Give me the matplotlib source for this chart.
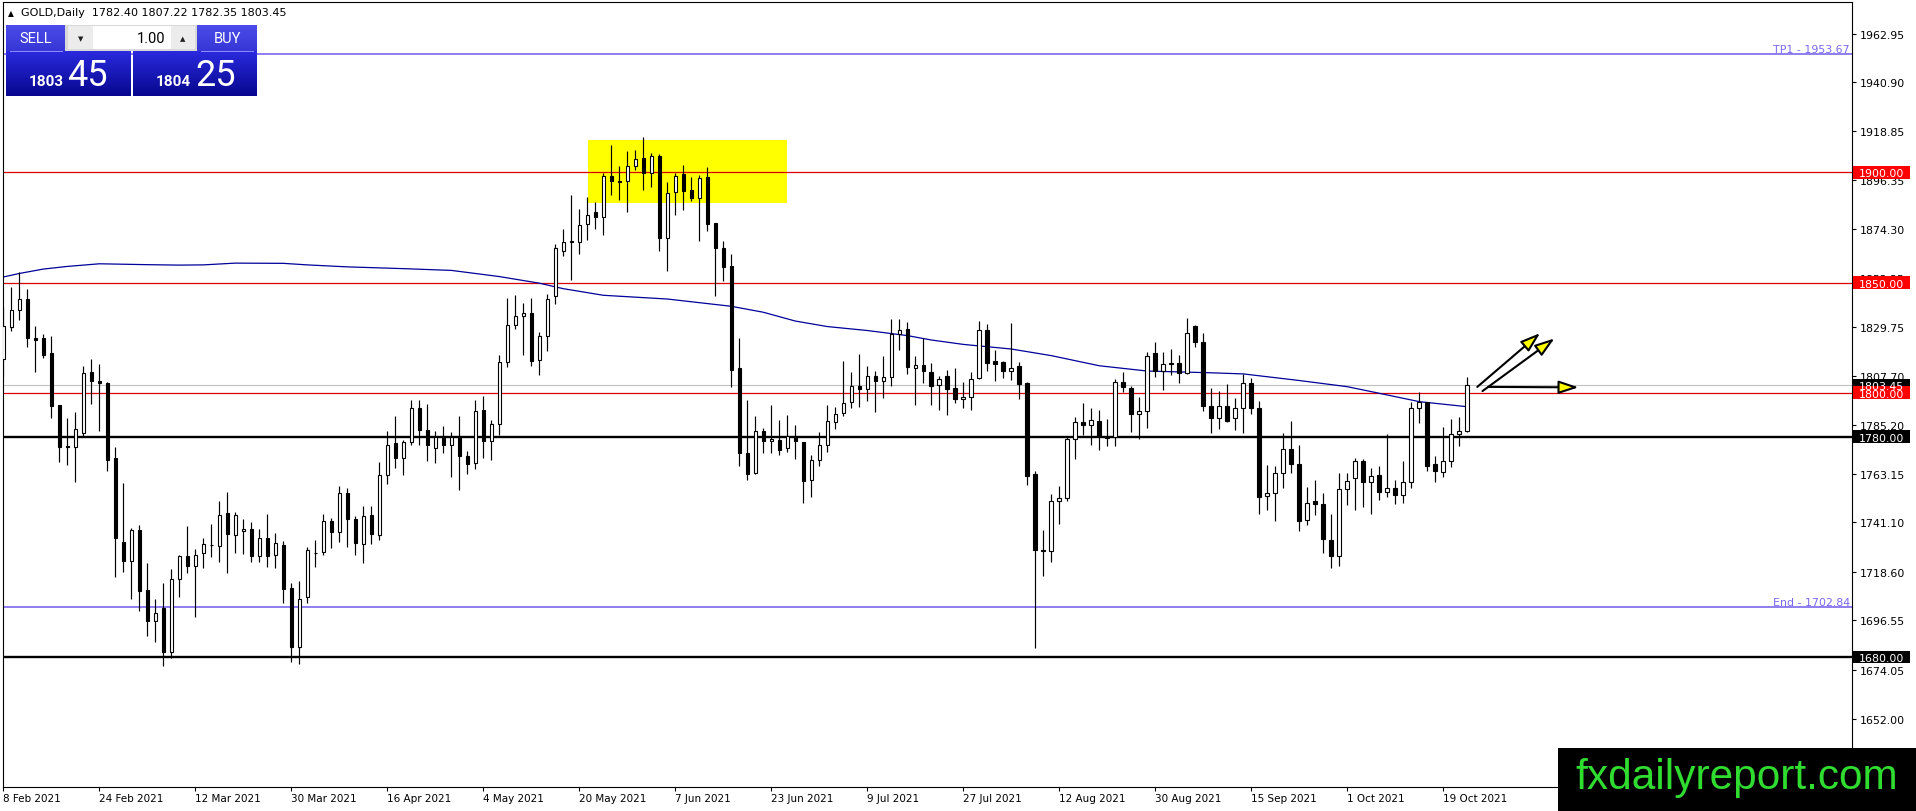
import numpy as np
import matplotlib
matplotlib.use("Agg")
import matplotlib.pyplot as plt
from matplotlib.patches import Rectangle, FancyArrowPatch
from matplotlib.colors import to_rgb

# GOLD daily bars, 8 Feb 2021 .. 22 Oct 2021
opens = [1815.2, 1829.6, 1837.3, 1842.3, 1824.7, 1824.7, 1818.0, 1794.3, 1775.7, 1775.1,
         1781.5, 1809.2, 1805.1, 1804.3, 1770.3, 1732.4, 1723.6, 1737.6, 1710.3, 1696.4,
         1702.4, 1682.3, 1715.3, 1725.8, 1721.4, 1727.0, 1730.8, 1730.4, 1745.3, 1735.3,
         1737.3, 1738.3, 1725.9, 1733.8, 1726.5, 1730.7, 1711.5, 1684.3, 1707.0, 1727.0,
         1727.5, 1741.9, 1736.9, 1754.6, 1742.8, 1731.4, 1744.4, 1735.3, 1762.7, 1777.3,
         1770.5, 1777.6, 1792.9, 1783.2, 1774.8, 1780.4, 1776.0, 1780.4, 1771.3, 1768.2,
         1792.1, 1778.1, 1785.9, 1814.0, 1830.5, 1835.0, 1836.3, 1814.8, 1825.8, 1843.9,
         1864.1, 1868.4, 1868.6, 1876.6, 1881.8, 1879.8, 1898.5, 1896.0, 1895.9, 1903.0,
         1906.4, 1899.5, 1907.6, 1870.1, 1890.9, 1899.2, 1892.0, 1888.2, 1897.7, 1877.0,
         1865.5, 1857.4, 1811.2, 1772.5, 1763.5, 1782.5, 1778.0, 1778.6, 1775.0, 1780.5,
         1777.5, 1760.4, 1769.5, 1776.0, 1786.6, 1790.7, 1795.7, 1802.9, 1801.7, 1807.5,
         1805.2, 1807.0, 1826.7, 1829.1, 1811.3, 1812.4, 1809.2, 1803.4, 1807.5, 1801.9,
         1797.2, 1798.1, 1806.6, 1828.3, 1814.2, 1813.7, 1809.9, 1811.9, 1804.5, 1763.2,
         1728.7, 1728.3, 1750.7, 1752.1, 1779.1, 1786.7, 1785.3, 1787.2, 1779.9, 1779.9,
         1804.9, 1802.3, 1790.2, 1791.7, 1818.0, 1809.9, 1812.9, 1813.6, 1808.7, 1830.4,
         1822.8, 1794.1, 1788.6, 1794.1, 1788.3, 1793.2, 1804.3, 1793.2, 1753.1, 1754.2,
         1763.6, 1774.2, 1767.8, 1742.0, 1750.8, 1749.6, 1733.2, 1725.6, 1756.4, 1761.3,
         1769.0, 1759.5, 1762.4, 1754.9, 1756.7, 1753.4, 1759.5, 1792.9, 1795.6, 1767.4,
         1764.0, 1769.0, 1781.3, 1782.40]
highs = [1838.7, 1847.8, 1854.6, 1847.0, 1830.1, 1826.6, 1825.5, 1794.5, 1788.7, 1791.0,
         1812.0, 1815.2, 1813.2, 1804.6, 1775.1, 1758.9, 1738.5, 1739.8, 1722.6, 1706.5,
         1713.5, 1719.9, 1726.2, 1739.5, 1728.9, 1733.8, 1740.3, 1750.7, 1754.7, 1745.9,
         1742.6, 1741.3, 1738.0, 1744.8, 1736.2, 1732.6, 1713.5, 1714.6, 1729.7, 1733.1,
         1744.7, 1743.2, 1757.7, 1756.5, 1744.0, 1748.3, 1748.3, 1768.7, 1782.7, 1789.3,
         1778.4, 1796.8, 1796.8, 1794.9, 1782.7, 1784.8, 1782.0, 1789.3, 1773.4, 1796.8,
         1798.4, 1787.4, 1817.2, 1843.0, 1844.5, 1840.6, 1843.0, 1827.7, 1845.0, 1867.6,
         1874.3, 1889.6, 1883.2, 1888.8, 1886.5, 1899.6, 1912.5, 1903.0, 1909.8, 1910.1,
         1915.9, 1908.6, 1908.3, 1895.5, 1899.5, 1903.3, 1898.0, 1898.9, 1902.6, 1877.2,
         1868.7, 1863.0, 1824.9, 1796.7, 1789.2, 1784.0, 1794.5, 1787.7, 1789.9, 1785.4,
         1777.7, 1771.5, 1782.1, 1794.5, 1793.4, 1814.3, 1809.3, 1817.6, 1811.9, 1810.0,
         1816.5, 1833.5, 1833.5, 1831.9, 1816.8, 1825.0, 1813.3, 1807.7, 1810.1, 1811.0,
         1804.9, 1809.5, 1832.5, 1831.0, 1819.3, 1814.5, 1831.5, 1813.7, 1804.7, 1764.2,
         1737.7, 1754.1, 1757.6, 1779.9, 1789.0, 1795.1, 1793.1, 1791.9, 1787.8, 1806.0,
         1809.2, 1803.1, 1797.8, 1818.6, 1822.8, 1818.6, 1819.8, 1817.1, 1833.8, 1830.6,
         1826.9, 1802.0, 1800.8, 1803.8, 1797.7, 1808.4, 1806.5, 1796.2, 1767.1, 1766.8,
         1781.5, 1787.1, 1776.2, 1757.3, 1760.5, 1754.2, 1745.1, 1763.6, 1763.7, 1770.1,
         1769.8, 1765.8, 1766.8, 1781.0, 1760.5, 1768.9, 1795.9, 1800.2, 1795.8, 1771.3,
         1784.5, 1787.9, 1789.1, 1807.22]
lows = [1806.9, 1828.1, 1833.1, 1820.5, 1809.5, 1815.5, 1788.7, 1768.6, 1767.1, 1759.5,
        1780.4, 1794.8, 1782.7, 1764.5, 1716.5, 1718.6, 1706.2, 1700.9, 1689.6, 1686.6,
        1676.0, 1679.3, 1707.3, 1718.3, 1698.2, 1720.3, 1725.2, 1723.2, 1718.3, 1727.4,
        1726.7, 1723.2, 1722.9, 1720.9, 1720.5, 1704.7, 1677.8, 1676.7, 1704.7, 1720.6,
        1726.3, 1729.5, 1732.2, 1730.0, 1726.4, 1722.8, 1731.1, 1733.1, 1758.5, 1765.8,
        1762.7, 1776.0, 1776.0, 1769.1, 1768.2, 1772.6, 1761.9, 1755.7, 1763.2, 1765.1,
        1770.2, 1769.4, 1780.7, 1811.7, 1828.9, 1817.2, 1812.0, 1808.2, 1819.0, 1840.3,
        1862.1, 1851.3, 1863.0, 1869.3, 1874.3, 1871.6, 1889.9, 1887.4, 1881.9, 1901.1,
        1892.0, 1893.5, 1864.5, 1855.4, 1880.8, 1882.9, 1886.8, 1869.0, 1873.5, 1844.1,
        1850.9, 1802.5, 1766.5, 1760.4, 1763.0, 1772.5, 1772.5, 1771.9, 1773.0, 1770.0,
        1749.9, 1752.6, 1766.9, 1773.0, 1783.6, 1789.2, 1793.1, 1793.7, 1796.1, 1791.1,
        1797.6, 1803.2, 1819.4, 1808.3, 1794.3, 1804.2, 1794.3, 1792.0, 1789.7, 1795.5,
        1792.8, 1792.0, 1806.1, 1809.8, 1805.2, 1806.7, 1805.7, 1797.0, 1757.9, 1683.9,
        1716.9, 1723.3, 1740.4, 1751.0, 1770.0, 1780.6, 1776.4, 1773.8, 1775.8, 1775.6,
        1800.1, 1781.9, 1779.1, 1784.1, 1807.2, 1801.1, 1808.0, 1804.2, 1808.3, 1820.6,
        1791.6, 1781.5, 1783.5, 1786.8, 1783.0, 1781.8, 1790.3, 1744.7, 1746.6, 1741.6,
        1756.9, 1763.7, 1737.0, 1739.7, 1744.6, 1727.3, 1720.3, 1721.5, 1748.8, 1746.9,
        1748.1, 1745.1, 1751.1, 1752.6, 1749.3, 1749.9, 1756.9, 1786.0, 1764.3, 1759.5,
        1761.7, 1766.3, 1775.7, 1782.35]
closes = [1830.1, 1837.5, 1842.3, 1824.6, 1823.8, 1817.2, 1794.0, 1775.4, 1775.1, 1783.7,
          1808.7, 1805.1, 1804.2, 1769.5, 1734.1, 1723.6, 1737.6, 1710.0, 1696.4, 1699.9,
          1682.3, 1715.3, 1725.8, 1721.4, 1726.2, 1731.2, 1730.6, 1744.4, 1735.9, 1744.4,
          1738.3, 1725.9, 1733.8, 1725.9, 1731.5, 1710.8, 1684.3, 1706.5, 1728.5, 1727.4,
          1741.9, 1736.9, 1754.6, 1742.8, 1731.9, 1744.1, 1735.6, 1762.7, 1776.0, 1770.5,
          1777.6, 1792.9, 1783.2, 1776.0, 1779.9, 1776.0, 1779.9, 1771.0, 1767.6, 1791.8,
          1778.1, 1785.9, 1814.0, 1830.5, 1835.0, 1836.3, 1814.5, 1825.5, 1842.7, 1865.7,
          1868.6, 1868.8, 1876.2, 1880.7, 1879.8, 1898.5, 1895.9, 1895.8, 1903.0, 1906.0,
          1899.5, 1907.6, 1870.1, 1890.5, 1898.2, 1891.7, 1888.2, 1897.4, 1876.6, 1865.5,
          1856.9, 1810.5, 1772.5, 1763.2, 1782.5, 1778.0, 1779.0, 1774.0, 1780.5, 1778.0,
          1760.1, 1769.5, 1776.0, 1787.1, 1790.4, 1795.2, 1802.9, 1801.7, 1807.5, 1805.2,
          1807.0, 1826.4, 1828.6, 1811.8, 1812.4, 1809.8, 1803.1, 1806.4, 1801.6, 1797.0,
          1798.2, 1806.4, 1828.3, 1813.4, 1813.0, 1809.8, 1811.4, 1803.9, 1762.1, 1728.7,
          1728.3, 1750.7, 1752.1, 1779.1, 1786.7, 1785.2, 1787.6, 1780.3, 1779.4, 1804.9,
          1802.6, 1790.2, 1791.7, 1816.8, 1809.8, 1813.0, 1813.3, 1808.7, 1827.2, 1822.8,
          1794.0, 1788.6, 1794.1, 1787.3, 1793.2, 1804.3, 1793.2, 1752.6, 1754.2, 1763.6,
          1774.2, 1767.5, 1741.7, 1750.1, 1749.3, 1733.4, 1725.6, 1756.4, 1759.9, 1769.0,
          1759.2, 1762.2, 1754.9, 1756.7, 1753.4, 1759.5, 1792.9, 1795.6, 1766.8, 1764.3,
          1769.0, 1781.3, 1782.7, 1803.45]

# moving average (blue line), read at a few bars
ma_bars = [0, 2, 5, 8, 12, 18, 22, 25, 29, 35, 38, 43, 50, 56, 62, 67, 70, 75, 83,
           91, 95, 99, 103, 108, 113, 116, 120, 126, 131, 137, 143, 151, 155, 162,
           168, 172, 177, 183]
ma_vals = [1852.5, 1854.1, 1856.1, 1857.3, 1858.5, 1858.1, 1857.9, 1858.0, 1858.8,
           1858.7, 1858.0, 1857.1, 1856.3, 1855.5, 1852.7, 1849.7, 1847.2, 1844.2,
           1842.5, 1839.2, 1836.5, 1832.5, 1830.0, 1828.2, 1825.9, 1823.9, 1821.9,
           1819.8, 1816.8, 1812.2, 1809.8, 1809.0, 1808.5, 1805.5, 1802.7, 1799.7,
           1795.9, 1793.6]

xtick_bars = [0, 12, 24, 36, 48, 60, 72, 84, 96, 108, 120, 132, 144, 156, 168, 180]
xtick_labels = ["8 Feb 2021", "24 Feb 2021", "12 Mar 2021", "30 Mar 2021",
                "16 Apr 2021", "4 May 2021", "20 May 2021", "7 Jun 2021",
                "23 Jun 2021", "9 Jul 2021", "27 Jul 2021", "12 Aug 2021",
                "30 Aug 2021", "15 Sep 2021", "1 Oct 2021", "19 Oct 2021"]
ytick_vals = [1962.95, 1940.90, 1918.85, 1896.35, 1874.30, 1852.25, 1829.75,
              1807.70, 1785.20, 1763.15, 1741.10, 1718.60, 1696.55, 1674.05,
              1652.00]

# chart objects
tp1 = 1953.67
end_level = 1702.84
red_levels = [1900.0, 1850.0, 1800.0]
black_levels = [1780.0, 1680.0]
bid = 1803.45
box_bars = (73.1, 97.96)
box_prices = (1886.1, 1914.9)
arrows = [((184.25, 1802.6), (192.1, 1827.0)),
          ((184.9, 1800.7), (193.9, 1824.6)),
          ((185.6, 1802.6), (196.9, 1802.4))]

W, H = 1916, 812
fig = plt.figure(figsize=(W / 100, H / 100), dpi=100)
fig.patch.set_facecolor("white")
ax = fig.add_axes([3 / W, (H - 788.3) / H, (1852 - 3) / W, (788.3 - 2.7) / H])
ax.set_xlim(-0.04, 231.09)
ax.set_ylim(1620.8, 1977.5)

for s in ax.spines.values():
    s.set_linewidth(0.8)
    s.set_color("black")

# yellow zone
ax.add_patch(Rectangle((box_bars[0], box_prices[0]), box_bars[1] - box_bars[0],
                       box_prices[1] - box_prices[0], facecolor="#ffff00",
                       edgecolor="none", zorder=0.5))

# levels
lvl_col = "#7b68ee"
ax.axhline(tp1, color=lvl_col, lw=1.2, zorder=1)
ax.axhline(end_level, color=lvl_col, lw=1.2, zorder=1)
for lv in red_levels:
    ax.axhline(lv, color="#dd0000", lw=0.9, zorder=1)
for lv in black_levels:
    ax.axhline(lv, color="black", lw=1.7, zorder=1)
ax.axhline(bid, color="#c0c0c0", lw=0.8, zorder=1)

ytr = ax.get_yaxis_transform()
ax.text(0.9989, tp1 + 0.9, "TP1 - 1953.67", transform=ytr, ha="right",
        va="baseline", color=lvl_col, fontsize=7.9)
ax.text(0.9989, end_level + 0.9, "End - 1702.84", transform=ytr, ha="right",
        va="baseline", color=lvl_col, fontsize=7.9)

# moving average
ax.plot(ma_bars, ma_vals, color="#00009a", lw=0.9, zorder=2)

# candles
idx = np.arange(len(opens))
o = np.array(opens)
c = np.array(closes)
bottoms = np.minimum(o, c)
heights = np.maximum(np.abs(c - o), 0.25)
face = ["white" if cc >= oo else "black" for oo, cc in zip(o, c)]
ax.vlines(idx, lows, highs, color="black", lw=0.85, zorder=2.8)
ax.bar(idx, heights, bottom=bottoms, width=0.45, color=face, edgecolor="black",
       linewidth=0.8, zorder=3)

# arrows
for a, b in arrows:
    ax.add_patch(FancyArrowPatch(a, b, arrowstyle="-|>,head_length=12,head_width=4",
                                 mutation_scale=1, lw=1.5, edgecolor="black",
                                 facecolor="#ffff00", shrinkA=0, shrinkB=0, zorder=4))

# axis ticks
ax.yaxis.tick_right()
ax.set_yticks(ytick_vals)
ax.set_yticklabels([f"{v:.2f}" for v in ytick_vals])
ax.tick_params(axis="y", direction="out", length=3, width=0.8, pad=2.4,
               labelsize=7.9, colors="black")
ax.set_xticks(xtick_bars)
ax.set_xticklabels(xtick_labels)
ax.tick_params(axis="x", direction="out", length=3.2, width=0.8, pad=1.0,
               labelsize=7.5, colors="black")
for t in ax.get_xticklabels():
    t.set_horizontalalignment("left")


# price tags on the right scale
def price_tag(price, text, fc):
    bx0 = (1853.5 - 3) / 1849
    bw = 56 / 1849
    bh = 12.5 * 0.4541
    ax.add_patch(Rectangle((bx0, price - bh / 2), bw, bh, transform=ytr,
                           facecolor=fc, edgecolor="none", clip_on=False, zorder=6))
    ax.text((1858.5 - 3) / 1849, price, text, transform=ytr, color="white",
            fontsize=7.9, ha="left", va="center_baseline", clip_on=False, zorder=7)


price_tag(1900.0, "1900.00", "#ff0000")
price_tag(1850.0, "1850.00", "#ff0000")
price_tag(bid, f"{bid:.2f}", "black")
price_tag(1800.0, "1800.00", "#ff0000")
price_tag(1780.0, "1780.00", "black")
price_tag(1680.0, "1680.00", "black")

# overlay in pixel coords: header, trade panel, watermark
ov = fig.add_axes([0, 0, 1, 1], zorder=20)
ov.set_facecolor("none")
ov.axis("off")


def grad_box(x0, y0, x1, y1, c_top, c_bot):
    t = np.linspace(0, 1, 64)[:, None, None]
    img = (1 - t) * np.array(to_rgb(c_top)) + t * np.array(to_rgb(c_bot))
    ov.imshow(img, extent=[x0, x1, y1, y0], aspect="auto", interpolation="bilinear",
              zorder=2)


ov.text(11, 13.5, "\u25b2", fontsize=5.5, ha="center", va="center")
ov.text(21.5, 13.5, f"GOLD,Daily  {opens[-1]:.2f} {highs[-1]:.2f} {lows[-1]:.2f} {closes[-1]:.2f}",
        fontsize=8, ha="left", va="center")

grad_box(6, 25.7, 65, 51.7, "#4c4cea", "#3636d6")
grad_box(197.3, 25.7, 256.7, 51.7, "#4c4cea", "#3636d6")
grad_box(6, 51.7, 130.7, 96.7, "#2a2ade", "#07078e")
grad_box(133.3, 51.7, 256.7, 96.7, "#2a2ade", "#07078e")
ov.plot([10, 62], [51.5, 51.5], color="#8f8fff", lw=0.7, zorder=3)
ov.plot([201, 253], [51.5, 51.5], color="#8f8fff", lw=0.7, zorder=3)
ov.add_patch(Rectangle((65, 25.7), 132.3, 26, facecolor="#d8d8d8", edgecolor="none", zorder=2))
ov.add_patch(Rectangle((68, 27), 25, 23, facecolor="#ececec", edgecolor="none", zorder=3))
ov.add_patch(Rectangle((93, 27), 78, 23, facecolor="white", edgecolor="none", zorder=3))
ov.add_patch(Rectangle((171, 27), 24, 23, facecolor="#ececec", edgecolor="none", zorder=3))
ov.text(80.5, 39, "\u25bc", fontsize=5, ha="center", va="center", color="#202020", zorder=4)
ov.text(183, 39, "\u25b2", fontsize=5, ha="center", va="center", color="#202020", zorder=4)
ov.text(165, 39, "1.00", fontsize=10.5, ha="right", va="center", color="black",
        family="Roboto", zorder=4)
ov.text(35.5, 39, "SELL", fontsize=10.5, ha="center", va="center", color="white",
        family="Roboto", zorder=4)
ov.text(227, 39, "BUY", fontsize=10.5, ha="center", va="center", color="white",
        family="Roboto", zorder=4)
ov.text(29, 86.5, "1803", fontsize=11, fontweight="bold", color="white",
        family="Roboto", ha="left", va="baseline", zorder=4)
ov.text(67, 86.5, "45", fontsize=26, color="white", family="Roboto",
        ha="left", va="baseline", zorder=4)
ov.text(156, 86.5, "1804", fontsize=11, fontweight="bold", color="white",
        family="Roboto", ha="left", va="baseline", zorder=4)
ov.text(195, 86.5, "25", fontsize=26, color="white", family="Roboto",
        ha="left", va="baseline", zorder=4)

ov.add_patch(Rectangle((1558, 749), 358, 63, facecolor="black", edgecolor="none", zorder=5))
ov.text(1575, 778, "fxdailyreport.com", fontsize=30.5, color="#30dc30",
        family="Liberation Sans", ha="left", va="center", zorder=6)

ov.set_xlim(0, W)
ov.set_ylim(H, 0)

fig.savefig("out.png", dpi=100)
